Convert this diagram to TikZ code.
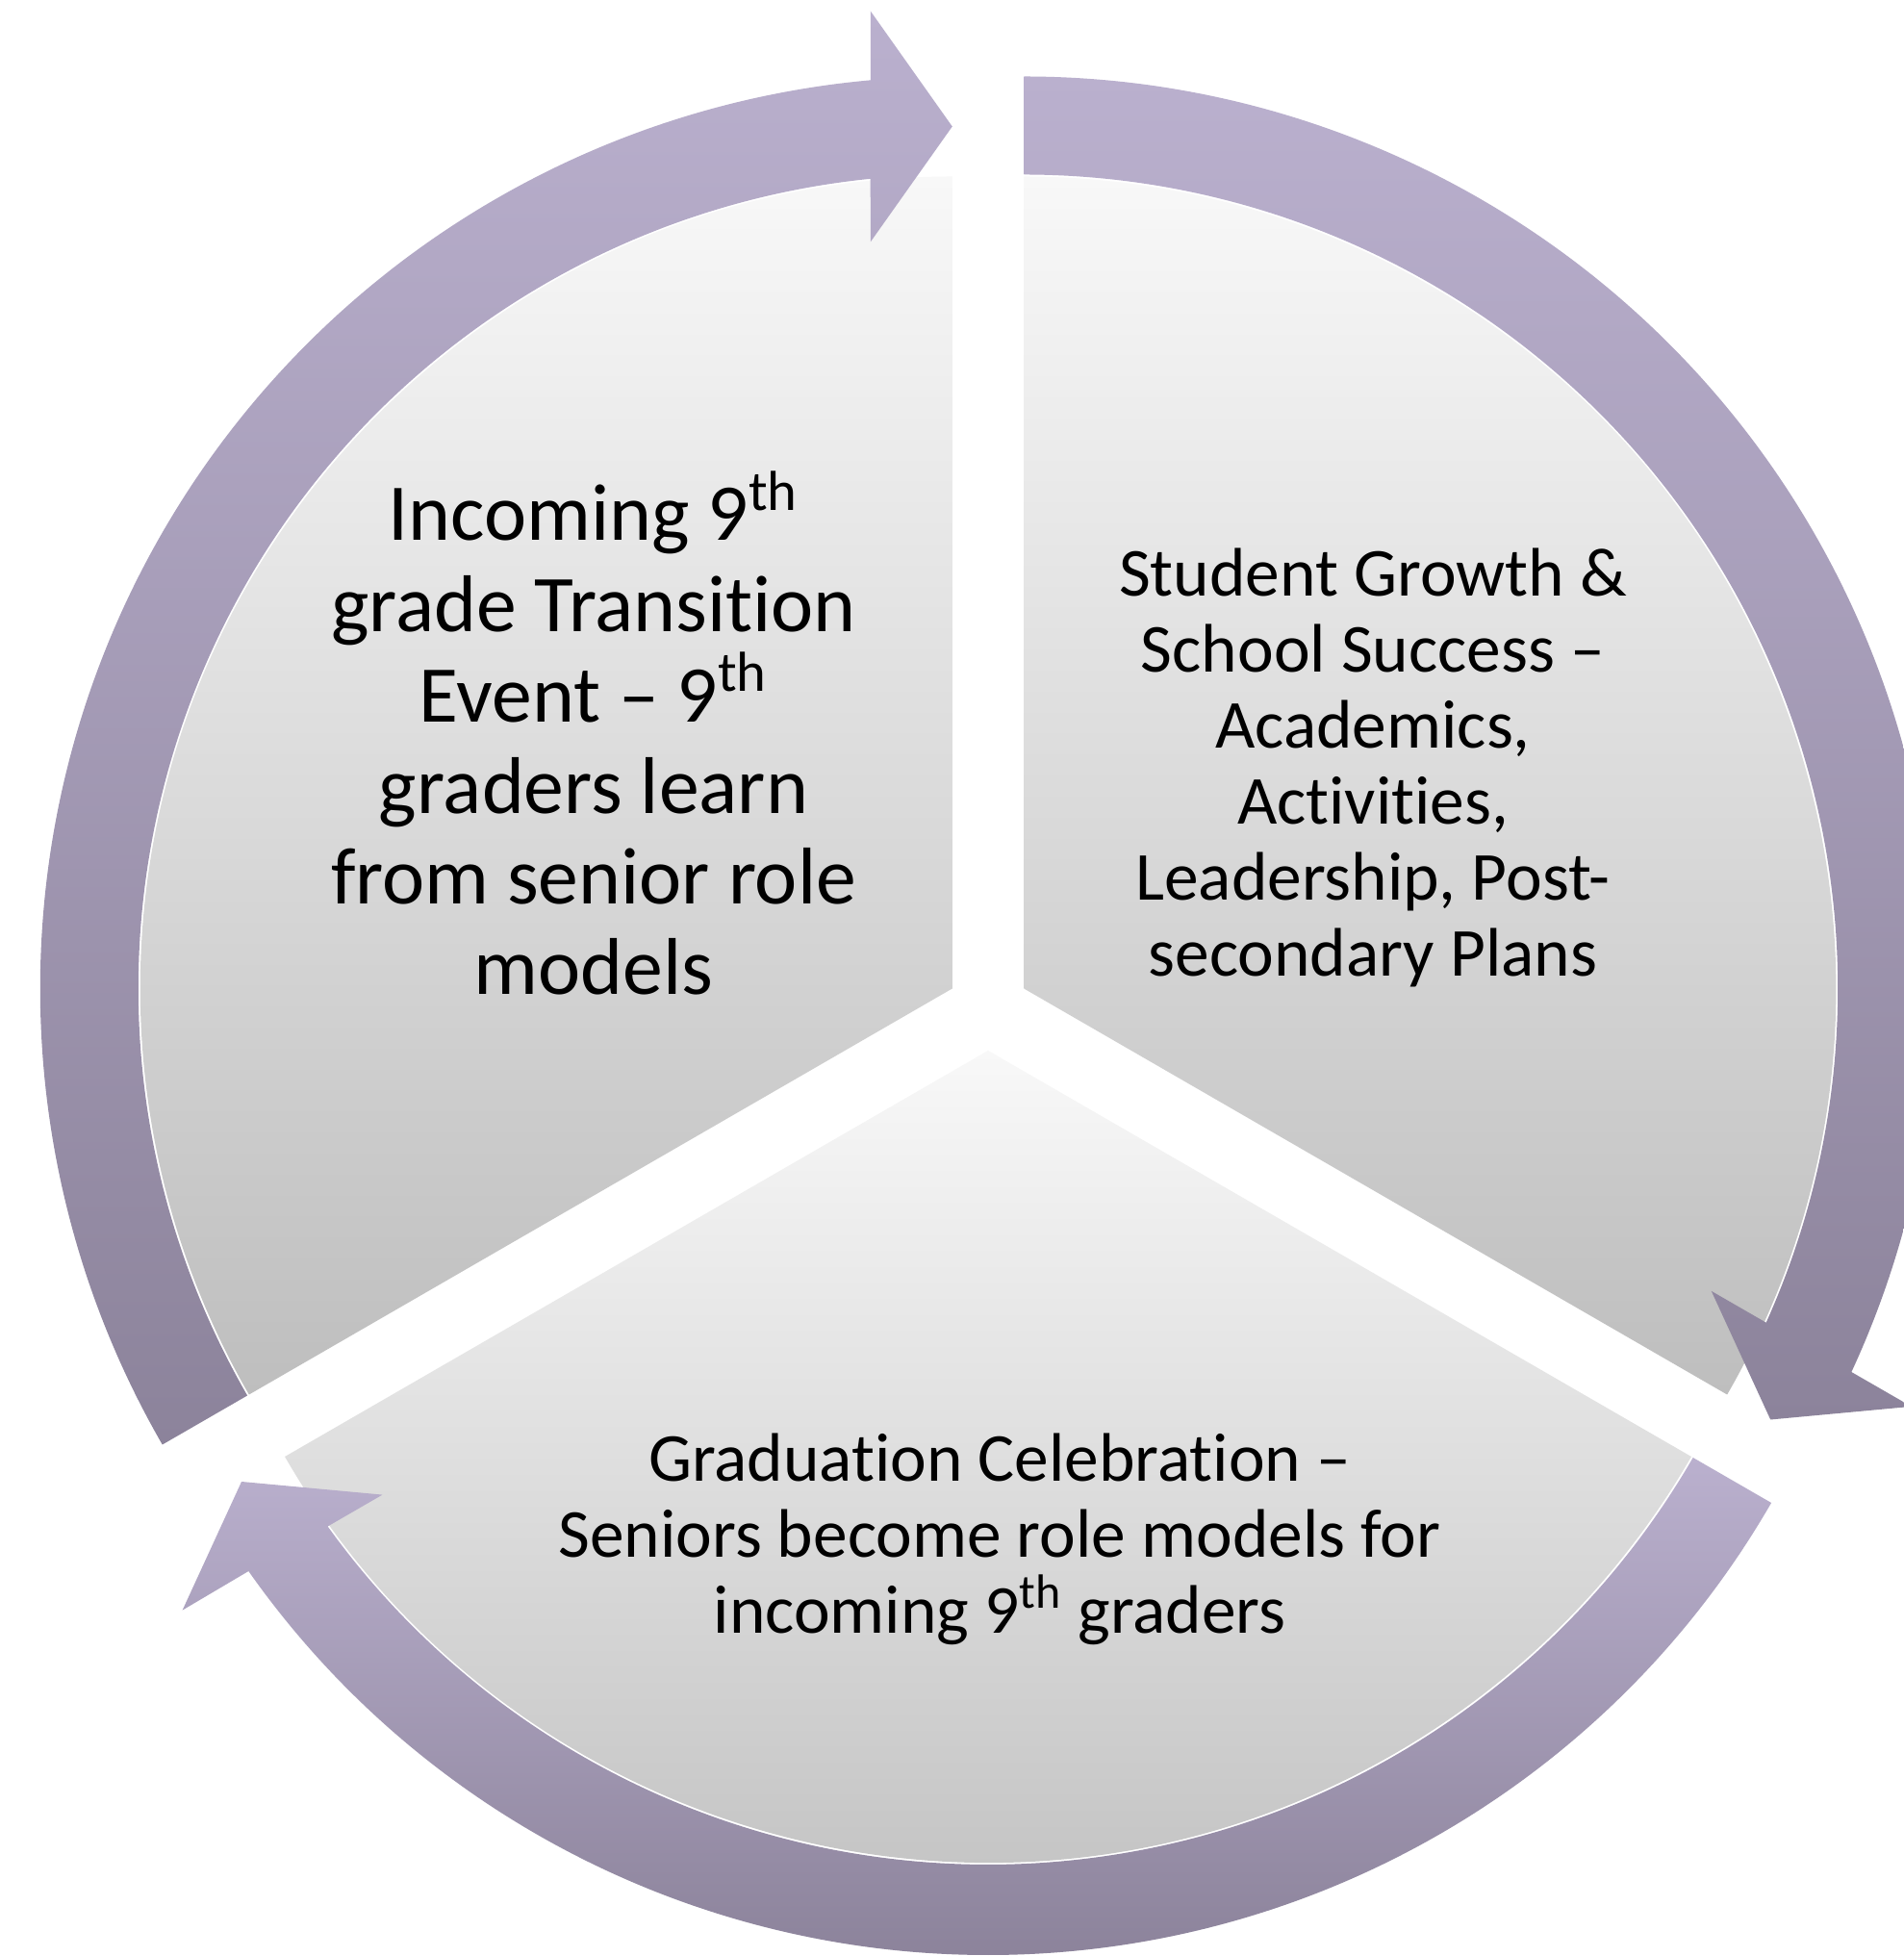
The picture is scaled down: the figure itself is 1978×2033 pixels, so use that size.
\documentclass[tikz,border=0pt]{standalone}
\usepackage{fontspec}
\setmainfont{Carlito}[Ligatures={NoCommon,NoContextual}]
\usepackage{tikz}
\usetikzlibrary{calc}
\usetikzlibrary{shadows}
\definecolor{pieceTop}{HTML}{F8F8F8}
\definecolor{pieceBottom}{HTML}{BEBEBE}
\definecolor{bandTop}{HTML}{BAB0CE}
\definecolor{bandBottom}{HTML}{8C839B}

\begin{document}
\begin{tikzpicture}[x=0.01cm,y=0.01cm,
                    every shade/.style={drop shadow={shadow xshift=0.8pt,shadow yshift=-1.2pt,opacity=0.22}},
                    piece/.style=      {top color=pieceTop,bottom color=pieceBottom},
                    band/.style=       {top color=bandTop,bottom color=bandBottom},
                    big label/.style=  {align=center,anchor=base,font=\fontsize{23.8}{26.85}\selectfont},
                    small label/.style={align=center,anchor=base,font=\fontsize{20.3}{22.5}\selectfont}]
      \path[use as bounding box,fill=white] (0,0) rectangle (1978,2033);
      % centres of the three pieces
      \coordinate (c) at (1027,984);
      \coordinate (pl) at ($(c)+(150:43)$);
      \coordinate (pr) at ($(c)+(30:43)$);
      \coordinate (pb) at ($(c)+(270:43)$);
      % pieces
      \shade[piece] (pl) -- ($(pl)+(90:844)$) arc[start angle=90,end angle=210,radius=844] -- cycle;
      \shade[piece] (pr) -- ($(pr)+(-30:844)$) arc[start angle=-30,end angle=90,radius=844] -- cycle;
      \shade[piece] (pb) -- ($(pb)+(210:844)$) arc[start angle=210,end angle=330,radius=844] -- cycle;
      % arrows
      \shade[band] ($(pl)+(210:948)$) arc[start angle=210,end angle=95.14,radius=948]
            -- ($(pl)+(90:1016)+(180:85)$) -- ($(pl)+(90:896)$) -- ($(pl)+(90:776)+(180:85)$)
            -- ($(pl)+(95.77:846)$) arc[start angle=95.77,end angle=210,radius=846] -- cycle;
      \shade[band] ($(pr)+(90:948)$) arc[start angle=90,end angle=-24.86,radius=948]
            -- ($(pr)+(-30:1016)+(60:85)$) -- ($(pr)+(-30:896)$) -- ($(pr)+(-30:776)+(60:85)$)
            -- ($(pr)+(-24.23:846)$) arc[start angle=-24.23,end angle=90,radius=846] -- cycle;
      \shade[band] ($(pb)+(330:940)$) arc[start angle=330,end angle=215.14,radius=940]
            -- ($(pb)+(210:1016)+(300:85)$) -- ($(pb)+(210:896)$) -- ($(pb)+(210:776)+(300:85)$)
            -- ($(pb)+(215.77:846)$) arc[start angle=215.77,end angle=330,radius=846] -- cycle;
      % texts (anchored at the baseline of the last line)
      \node[big label] (incoming) at (617,999) {Incoming 9\textsuperscript{th}\\grade Transition\\Event – 9\textsuperscript{th}\\graders learn\\from senior role\\models};
      \node[small label] (growth) at (1427,1018) {Student Growth \&\\School Success –\\Academics,\\Activities,\\Leadership, Post-\\secondary Plans};
      \node[small label] (graduation) at (1039,335) {Graduation Celebration –\\Seniors become role models for\\incoming 9\textsuperscript{th} graders};
\end{tikzpicture}
\end{document}
